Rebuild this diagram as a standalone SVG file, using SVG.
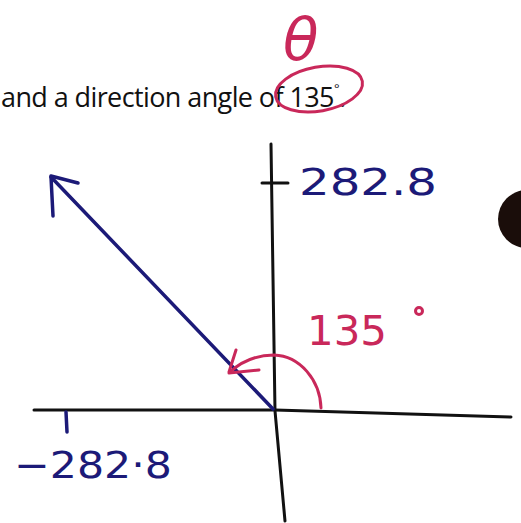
<svg xmlns="http://www.w3.org/2000/svg" width="521" height="523" viewBox="0 0 521 523">
<style>
.ax{stroke:#111;stroke-width:3;fill:none;stroke-linecap:round}
.nv{stroke:#1c1a78;stroke-width:3.5;fill:none;stroke-linecap:round;stroke-linejoin:round}
.rd{stroke:#c9285a;stroke-width:3;fill:none;stroke-linecap:round}
.hw{font-family:"DejaVu Sans",sans-serif}
</style>
<rect width="521" height="523" fill="#fff"/>
<circle cx="527" cy="219" r="29" fill="#1a0d0a"/>
<text x="1" y="107" font-family="Open Sans, Liberation Sans, sans-serif" font-size="27" fill="#111" letter-spacing="-0.6">and a direction angle of 135<tspan font-size="13" dy="-14">°</tspan><tspan dy="14">.</tspan></text>
<text x="283" y="60" class="hw" font-size="58" fill="#c9285a" font-style="italic">θ</text>
<ellipse cx="319" cy="89" rx="44" ry="22" transform="rotate(-10 319 89)" class="rd"/>
<g id="axes">
<path class="ax" d="M271 144 L275 411 L285 521"/>
<path class="ax" d="M34 410 L275 410 L511 417"/>
<path class="ax" d="M262 183 L288 183" stroke="#1c1a78"/>
<path class="nv" d="M66 412 L67 432"/>
</g>
<g id="vector">
<path class="nv" d="M273 409 L51 177"/>
<path class="nv" d="M51 176 L78 183 M51 177 L53 216"/>
</g>
<g id="arc">
<path class="rd" d="M321 408 C320 380 300 356 274 355 C255 355 240 363 230 372"/>
<path class="rd" d="M229 372 L236 350 M229 373 L259 370"/>
</g>
<text x="299" y="195" class="hw" font-size="38" fill="#1c1a78" textLength="138" lengthAdjust="spacingAndGlyphs">282.8</text>
<text x="14" y="478" class="hw" font-size="38" fill="#1c1a78" textLength="158" lengthAdjust="spacingAndGlyphs">−282·8</text>
<text x="307" y="345" class="hw" font-size="40" fill="#c9285a" textLength="80" lengthAdjust="spacingAndGlyphs">135</text>
<circle cx="419" cy="311" r="3.5" class="rd"/>
</svg>
